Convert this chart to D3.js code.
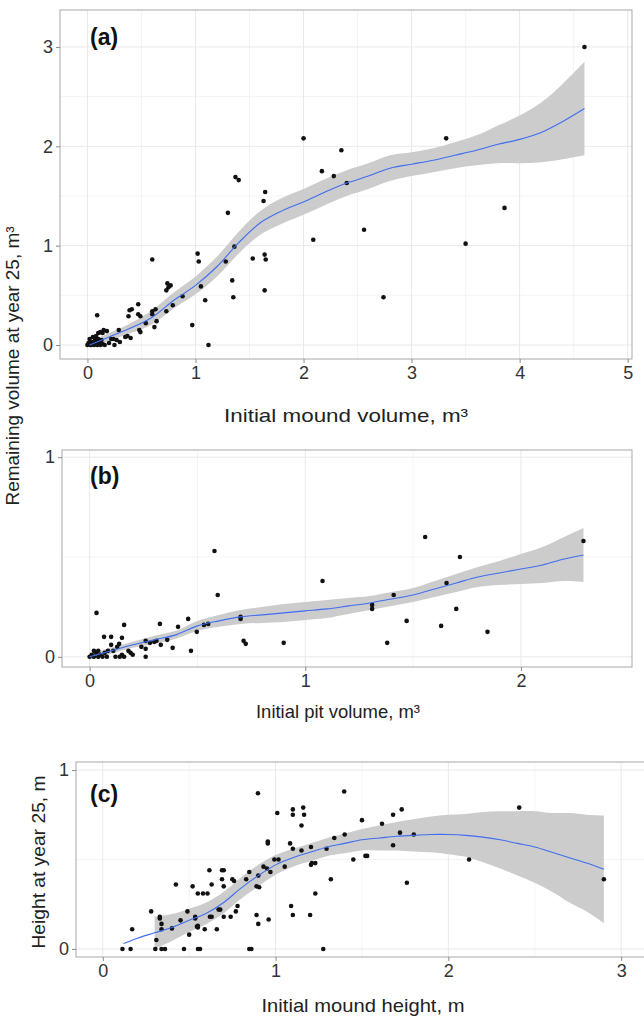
<!DOCTYPE html>
<html>
<head>
<meta charset="utf-8">
<script src="https://cdn.jsdelivr.net/npm/d3@7"></script>
<style>
body { margin: 0; background: #fff; }
text { font-family: "Liberation Sans Narrow", "Arial Narrow", "Liberation Sans", Arial, sans-serif; }
</style>
</head>
<body>
<svg id="chart" width="644" height="1017"></svg>
<script>
// ---- panel (a): initial mound volume vs remaining volume
const aX = [4.6,2.0,3.32,2.35,2.17,2.28,2.40,1.37,1.40,1.645,1.63,1.30,3.86,2.56,2.09,3.50,1.36,1.02,1.64,1.53,0.6,1.03,1.28,1.65,
  1.34,1.35,1.64,1.05,1.09,0.88,0.97,1.12,2.74,0.74,0.75,0.73,0.77,0.73,0.79,0.63,0.6,0.6,0.62,0.64,0.47,0.39,0.41,0.47,0.49,0.38,0.54,0.48,0.49,0.37,0.35,0.40,0.29,0.22,0.24,0.27,0.30,0.18,0.14,0.09,0.1,0.12,0.15,
  0.0,0.01,0.02,0.03,0.04,0.05,0.06,0.07,0.08,0.09,0.1,0.11,0.12,0.13,0.14,0.02,0.05,0.08,0.16,0.2,0.25];
const aY = [3.0,2.08,2.08,1.96,1.75,1.70,1.63,1.69,1.66,1.54,1.45,1.33,1.38,1.16,1.06,1.02,0.99,0.92,0.91,0.87,0.86,0.84,0.84,0.86,
  0.65,0.48,0.55,0.59,0.45,0.49,0.20,0.0,0.48,0.62,0.58,0.55,0.60,0.34,0.40,0.36,0.34,0.31,0.18,0.24,0.41,0.35,0.36,0.31,0.29,0.29,0.22,0.15,0.13,0.09,0.08,0.07,0.15,0.06,0.06,0.05,0.03,0.14,0.12,0.30,0.12,0.13,0.15,
  0.0,0.02,0.06,0.0,0.03,0.08,0.0,0.05,0.02,0.0,0.06,0.02,0.0,0.05,0.01,0.01,0.02,0.09,0.0,0.02,0.0];
const aFitX = [0.02,0.2,0.4,0.6,0.8,1.0,1.2,1.4,1.6,1.8,2.0,2.2,2.4,2.6,2.8,3.0,3.2,3.4,3.6,3.8,4.0,4.2,4.4,4.6];
const aFitY = [0.0,0.08,0.17,0.28,0.45,0.6,0.79,1.03,1.23,1.35,1.44,1.54,1.63,1.70,1.78,1.82,1.86,1.91,1.96,2.02,2.07,2.14,2.25,2.38];
const aFitSe = [0.03,0.04,0.05,0.07,0.08,0.09,0.1,0.11,0.12,0.13,0.13,0.13,0.13,0.13,0.13,0.12,0.12,0.13,0.15,0.19,0.24,0.3,0.38,0.47];
const aTicksX = [0,1,2,3,4,5];
const aTicksY = [0,1,2,3];

// ---- panel (b): initial pit volume vs remaining volume
const bX = [2.29,1.556,1.717,0.579,0.594,1.08,1.655,1.41,1.31,1.31,1.70,1.47,1.63,1.845,1.38,0.90,0.714,0.724,0.70,0.70,0.032,0.457,0.53,0.55,0.497,0.41,0.326,0.16,0.47,0.385,
  0.067,0.10,0.15,0.26,0.28,0.30,0.31,0.33,0.36,0.24,0.26,0.19,0.20,0.26,0.137,0.128,0.11,0.15,0.085,0.1,0.04,
  0.0,0.01,0.02,0.03,0.04,0.05,0.06,0.07,0.08,0.02,0.12,0.14,0.16,0.18];
const bY = [0.58,0.60,0.50,0.53,0.31,0.38,0.37,0.31,0.26,0.24,0.24,0.18,0.155,0.125,0.07,0.07,0.08,0.065,0.19,0.20,0.22,0.19,0.16,0.165,0.125,0.15,0.165,0.16,0.03,0.045,
  0.10,0.10,0.095,0.08,0.07,0.075,0.08,0.06,0.085,0.05,0.04,0.02,0.01,0.0,0.065,0.05,0.03,0.01,0.03,0.06,0.03,
  0.0,0.01,0.0,0.02,0.0,0.01,0.0,0.02,0.0,0.03,0.0,0.0,0.0,0.03];
const bFitX = [0.0,0.1,0.2,0.3,0.4,0.5,0.6,0.7,0.8,0.9,1.0,1.1,1.2,1.3,1.4,1.5,1.6,1.7,1.8,1.9,2.0,2.1,2.2,2.29];
const bFitY = [0.0,0.03,0.06,0.085,0.11,0.155,0.18,0.2,0.21,0.22,0.23,0.24,0.255,0.27,0.29,0.31,0.34,0.37,0.40,0.42,0.44,0.46,0.49,0.51];
const bFitSe = [0.015,0.015,0.015,0.02,0.02,0.025,0.03,0.035,0.04,0.045,0.045,0.045,0.04,0.035,0.035,0.035,0.04,0.045,0.05,0.06,0.075,0.09,0.11,0.135];
const bTicksX = [0,1,2];
const bTicksY = [0,1];

// ---- panel (c): initial mound height vs height at year 25
const cX = [0.898,1.397,2.41,1.01,1.10,1.16,1.10,1.165,1.50,1.68,1.73,1.616,1.15,1.72,1.80,1.34,1.40,0.955,0.955,1.084,1.68,1.205,1.295,1.10,1.15,1.45,1.52,1.53,2.12,2.90,1.76,1.32,
  1.205,1.21,1.23,1.053,0.993,1.017,0.93,0.97,0.95,0.90,0.89,0.905,0.848,0.83,0.75,0.69,0.69,0.617,0.70,0.63,0.70,0.76,0.78,0.77,0.74,0.70,0.68,0.67,0.606,0.58,0.52,0.55,0.423,
  0.49,0.535,0.535,0.55,0.55,0.545,0.59,0.62,0.63,0.66,0.45,0.40,0.50,0.34,0.34,0.33,0.33,0.28,0.31,0.17,0.89,0.90,0.96,1.09,1.10,1.20,1.23,
  0.114,0.161,0.304,0.34,0.36,0.47,0.551,0.563,0.848,0.86,1.276];
const cY = [0.87,0.88,0.79,0.76,0.78,0.79,0.75,0.75,0.72,0.75,0.78,0.70,0.69,0.65,0.64,0.62,0.64,0.59,0.60,0.59,0.58,0.57,0.56,0.56,0.55,0.50,0.52,0.52,0.50,0.39,0.37,0.39,
  0.47,0.48,0.48,0.46,0.50,0.50,0.46,0.43,0.45,0.41,0.35,0.345,0.43,0.39,0.39,0.39,0.44,0.44,0.44,0.36,0.35,0.38,0.24,0.21,0.18,0.18,0.22,0.22,0.31,0.31,0.35,0.31,0.36,
  0.21,0.18,0.17,0.13,0.12,0.125,0.11,0.18,0.18,0.11,0.16,0.115,0.08,0.11,0.14,0.18,0.17,0.21,0.05,0.11,0.19,0.14,0.165,0.24,0.19,0.19,0.31,
  0,0,0,0,0,0,0,0,0,0,0];
const cFitX = [0.12,0.2,0.3,0.4,0.5,0.6,0.7,0.8,0.9,1.0,1.1,1.2,1.3,1.4,1.5,1.6,1.7,1.8,1.9,2.0,2.1,2.2,2.3,2.4,2.5,2.6,2.7,2.8,2.9];
const cFitY = [0.03,0.06,0.09,0.12,0.16,0.2,0.26,0.34,0.41,0.47,0.51,0.54,0.57,0.59,0.61,0.62,0.63,0.635,0.64,0.64,0.635,0.625,0.61,0.59,0.57,0.54,0.51,0.48,0.445];
const cBandX = [0.3,0.4,0.5,0.6,0.7,0.8,0.9,1.0,1.1,1.2,1.3,1.4,1.5,1.6,1.7,1.8,1.9,2.0,2.1,2.2,2.3,2.4,2.5,2.6,2.7,2.8,2.9];
const cBandSe = [0.09,0.075,0.065,0.06,0.06,0.06,0.06,0.055,0.05,0.05,0.05,0.055,0.06,0.07,0.08,0.09,0.1,0.11,0.12,0.14,0.16,0.18,0.2,0.22,0.25,0.27,0.3];
const cTicksX = [0,1,2,3];
const cTicksY = [0,1];

const svg = d3.select("#chart");
const regular = '"Liberation Sans", Arial, sans-serif';

function drawPanel(p) {
    const x = d3.scaleLinear().domain(p.xDomain).range([p.left, p.right]);
    const y = d3.scaleLinear().domain(p.yDomain).range([p.bottom, p.top]);
    const g = svg.append("g");

    // gridlines, minor then major
    g.selectAll(".minx").data(p.minorX).enter().append("line")
        .attr("x1", d => x(d)).attr("x2", d => x(d)).attr("y1", p.top).attr("y2", p.bottom)
        .attr("stroke", "#f4f4f4").attr("stroke-width", 1);
    g.selectAll(".miny").data(p.minorY).enter().append("line")
        .attr("y1", d => y(d)).attr("y2", d => y(d)).attr("x1", p.left).attr("x2", p.right)
        .attr("stroke", "#f4f4f4").attr("stroke-width", 1);
    g.selectAll(".gx").data(p.ticksX).enter().append("line")
        .attr("x1", d => x(d)).attr("x2", d => x(d)).attr("y1", p.top).attr("y2", p.bottom)
        .attr("stroke", "#e9e9e9").attr("stroke-width", 1);
    g.selectAll(".gy").data(p.ticksY).enter().append("line")
        .attr("y1", d => y(d)).attr("y2", d => y(d)).attr("x1", p.left).attr("x2", p.right)
        .attr("stroke", "#e9e9e9").attr("stroke-width", 1);

    // confidence band
    const band = p.bandX.map((v, i) => ({x: v, lo: p.bandY[i] - p.bandSe[i], hi: p.bandY[i] + p.bandSe[i]}));
    g.append("path").datum(band)
        .attr("fill", "#cccccc")
        .attr("d", d3.area().curve(d3.curveCatmullRom)
            .x(d => x(d.x)).y0(d => y(d.lo)).y1(d => y(d.hi)));

    // points
    g.selectAll(".pt").data(p.px.map((v, i) => [v, p.py[i]])).enter().append("circle")
        .attr("cx", d => x(d[0])).attr("cy", d => y(d[1]))
        .attr("r", 2.3).attr("fill", "#111");

    // fitted line
    g.append("path").datum(p.fitX.map((v, i) => [v, p.fitY[i]]))
        .attr("fill", "none").attr("stroke", "#3f6ef0").attr("stroke-width", 1.1)
        .attr("d", d3.line().curve(d3.curveCatmullRom).x(d => x(d[0])).y(d => y(d[1])));

    // frame
    g.append("rect").attr("x", p.left).attr("y", p.top)
        .attr("width", p.right - p.left).attr("height", p.bottom - p.top)
        .attr("fill", "none").attr("stroke", "#a8a8a8").attr("stroke-width", 1);

    // axes
    const ax = g.append("g").attr("transform", "translate(0," + p.bottom + ")")
        .call(d3.axisBottom(x).tickValues(p.ticksX).tickFormat(d3.format("d")).tickSize(4).tickPadding(3));
    const ay = g.append("g").attr("transform", "translate(" + p.left + ",0)")
        .call(d3.axisLeft(y).tickValues(p.ticksY).tickFormat(d3.format("d")).tickSize(4).tickPadding(3));
    [ax, ay].forEach(a => {
        a.select(".domain").remove();
        a.selectAll(".tick line").attr("stroke", "#8a8a8a");
        a.selectAll(".tick text").attr("fill", "#333").style("font-size", "18px")
            .style("font-family", regular);
    });

    // panel letter
    g.append("text").attr("x", p.tagX).attr("y", p.tagY)
        .style("font-family", regular)
        .style("font-weight", "bold").style("font-size", "23px").attr("fill", "#111")
        .text(p.tag);

    // x title, squeezed to the narrow face of the original
    g.append("text").attr("x", p.titleX).attr("y", p.titleY)
        .attr("text-anchor", "middle").style("font-size", "19px").attr("fill", "#222")
        .attr("textLength", p.titleLen).attr("lengthAdjust", "spacingAndGlyphs")
        .text(p.xTitle);
}

drawPanel({
    left: 60, right: 632, top: 10, bottom: 359,
    xDomain: [-0.254, 5.04], yDomain: [-0.141, 3.372],
    ticksX: aTicksX, ticksY: aTicksY, minorX: [0.5,1.5,2.5,3.5,4.5], minorY: [0.5,1.5,2.5],
    px: aX, py: aY, fitX: aFitX, fitY: aFitY, bandX: aFitX, bandY: aFitY, bandSe: aFitSe,
    tag: "(a)", tagX: 90, tagY: 45,
    xTitle: "Initial mound volume,  m³", titleX: 346, titleY: 422, titleLen: 244
});

drawPanel({
    left: 62, right: 632, top: 450, bottom: 667,
    xDomain: [-0.128, 2.515], yDomain: [-0.051, 1.036],
    ticksX: bTicksX, ticksY: bTicksY, minorX: [0.5,1.5], minorY: [0.5],
    px: bX, py: bY, fitX: bFitX, fitY: bFitY, bandX: bFitX, bandY: bFitY, bandSe: bFitSe,
    tag: "(b)", tagX: 90, tagY: 484,
    xTitle: "Initial pit volume,  m³", titleX: 338, titleY: 718, titleLen: 164
});

// band of (c) only covers part of the fitted line
const cBandY = cBandX.map(v => cFitY[cFitX.indexOf(v)]);
drawPanel({
    left: 76, right: 650, top: 762, bottom: 957,
    xDomain: [-0.155, 3.167], yDomain: [-0.045, 1.045],
    ticksX: cTicksX, ticksY: cTicksY, minorX: [0.5,1.5,2.5], minorY: [0.5],
    px: cX, py: cY, fitX: cFitX, fitY: cFitY, bandX: cBandX, bandY: cBandY, bandSe: cBandSe,
    tag: "(c)", tagX: 90, tagY: 802,
    xTitle: "Initial mound height, m", titleX: 363, titleY: 1012, titleLen: 203
});

// shared y title for (a) and (b)
svg.append("text").attr("transform", "translate(19,366) rotate(-90)")
    .attr("text-anchor", "middle").style("font-size", "19px").attr("fill", "#222")
    .attr("textLength", 279).attr("lengthAdjust", "spacingAndGlyphs")
    .text("Remaining volume at year 25, m³");

svg.append("text").attr("transform", "translate(45,862) rotate(-90)")
    .attr("text-anchor", "middle").style("font-size", "19px").attr("fill", "#222")
    .attr("textLength", 173).attr("lengthAdjust", "spacingAndGlyphs")
    .text("Height at year 25, m");
</script>
</body>
</html>
